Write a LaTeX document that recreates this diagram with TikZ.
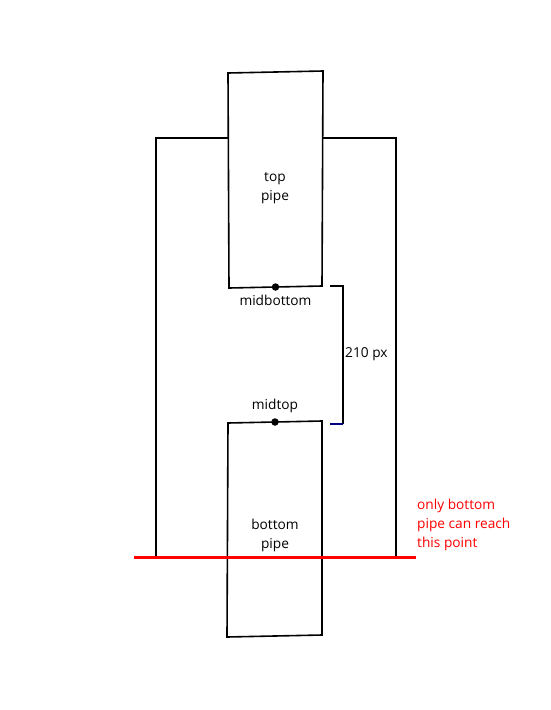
\documentclass[tikz,border=0pt]{standalone}
\usepackage{fontspec}
\setmainfont{Open Sans}
\usepackage{xcolor}
\usepackage{tikz}
\usetikzlibrary{positioning}

\begin{document}
\begin{tikzpicture}[x=1pt, y=-1pt,
    pipewall/.style={line width=1.6pt, line join=miter},
    txt/.style={font=\fontsize{13.7}{19}\selectfont, align=center, inner sep=0pt},
    dot/.style={circle, fill=black, inner sep=0pt, minimum size=7.5pt}]
  \useasboundingbox (0,0) rectangle (550,710);

  % Tubo superior
  \draw[pipewall] (228,73) coordinate (tTL) -- (323,71) coordinate (tTR)
    -- (322,286) coordinate (tBR) -- (229,288) coordinate (tBL) -- cycle;
  \node[txt] (toplbl) at (275,188) {top\\pipe};
  \node[dot] (midbottom) at (275.5,287) {};
  \node[txt, below=4pt of midbottom] (mblbl) {midbottom};

  % Tubo inferior
  \draw[pipewall] (228,423) coordinate (bTL) -- (322,421) coordinate (bTR)
    -- (322,635) coordinate (bBR) -- (227,637) coordinate (bBL) -- cycle;
  \node[txt] (botlbl) at (275,535) {bottom\\pipe};
  \node[dot] (midtop) at (275,422) {};
  \node[txt, above=5pt of midtop] (mtlbl) {midtop};

  % Marco exterior
  \coordinate (lTop) at (156,138);
  \coordinate (lBot) at (156,557);
  \coordinate (rTop) at (396,138);
  \coordinate (rBot) at (396,557);
  \draw[pipewall] (tTL |- lTop) -- (lTop) -- (lBot);
  \draw[pipewall] (tTR |- rTop) -- (rTop) -- (rBot);

  % Distancia entre los tubos
  \coordinate (brTop) at (330,286);
  \coordinate (brBot) at (343,424);
  \coordinate (brMid) at (343,354);
  \draw[line width=1.6pt] (brTop) -- (brTop -| brBot) -- (brBot);
  \draw[line width=1.6pt, blue!50!black] (brBot) -- (brBot -| brTop);
  \node[txt, right=2pt of brMid, anchor=west] (dist) {210 px};

  % Limite alcanzable
  \coordinate (limL) at (134,557);
  \coordinate (limR) at (416,557);
  \draw[line width=3pt, red] (limL) -- (limR);
  \node[txt, red, align=left, anchor=north west] (note) at (417,499)
    {only bottom\\pipe can reach\\this point};
\end{tikzpicture}
\end{document}
